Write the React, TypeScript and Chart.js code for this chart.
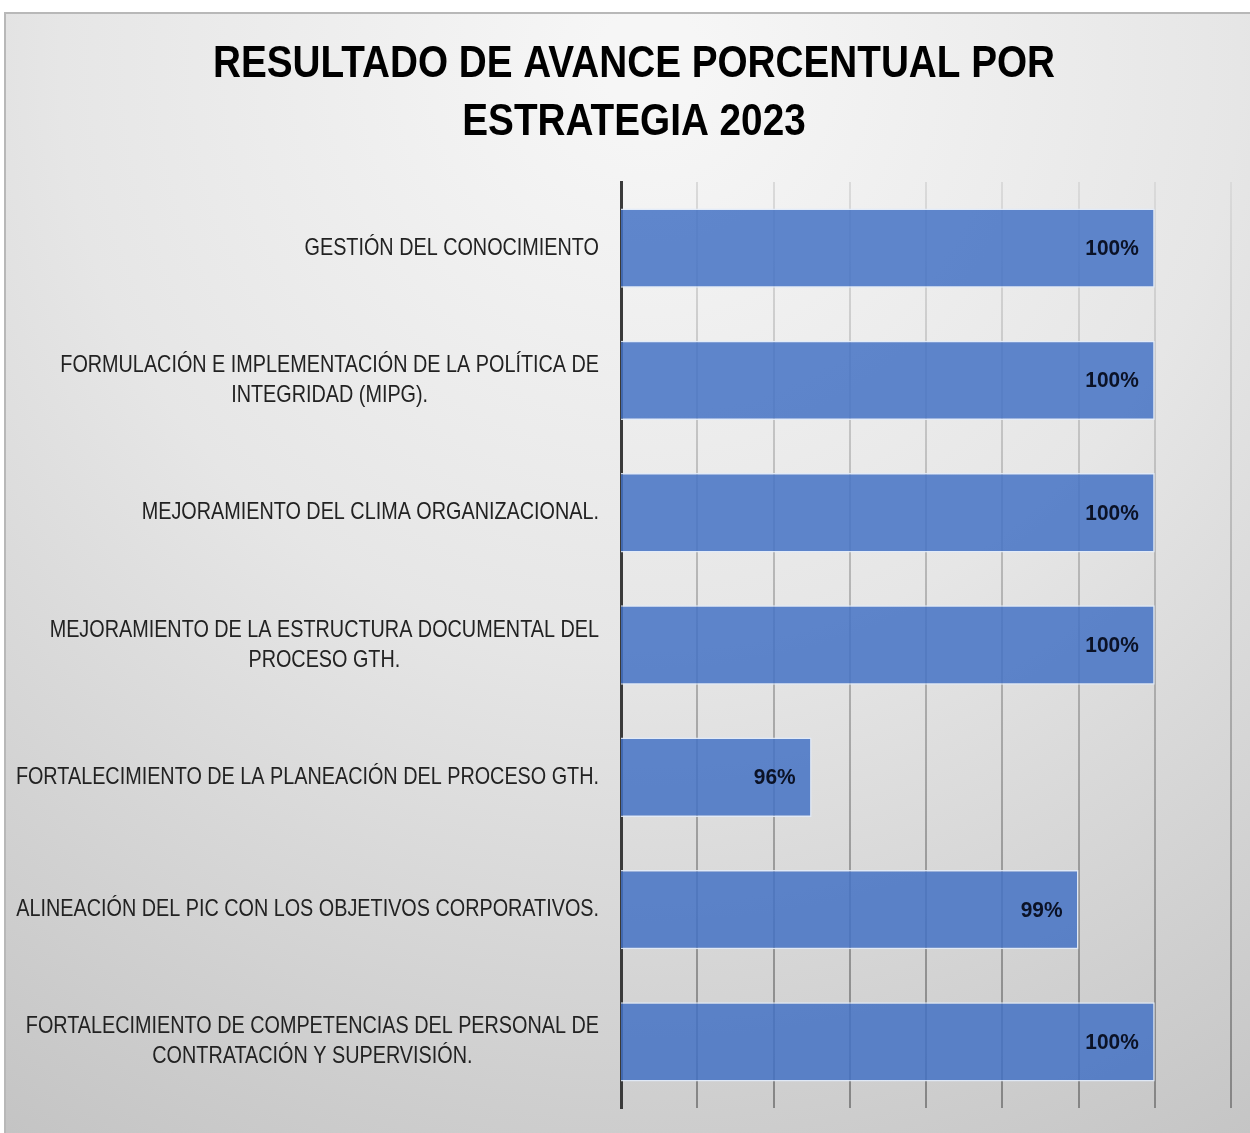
import React, { useEffect, useRef } from "react";
import { Chart, registerables } from "chart.js";

Chart.register(...registerables);

const TITLE_LINES = ["RESULTADO DE AVANCE PORCENTUAL POR", "ESTRATEGIA 2023"];

const CATEGORIES: string[][] = [
  ["GESTIÓN DEL CONOCIMIENTO"],
  ["FORMULACIÓN E IMPLEMENTACIÓN DE LA POLÍTICA DE", "INTEGRIDAD (MIPG)."],
  ["MEJORAMIENTO DEL CLIMA ORGANIZACIONAL."],
  ["MEJORAMIENTO DE LA ESTRUCTURA DOCUMENTAL DEL", "PROCESO GTH."],
  ["FORTALECIMIENTO DE LA PLANEACIÓN DEL PROCESO GTH."],
  ["ALINEACIÓN DEL PIC CON LOS OBJETIVOS CORPORATIVOS."],
  ["FORTALECIMIENTO DE COMPETENCIAS DEL PERSONAL DE", "CONTRATACIÓN Y SUPERVISIÓN."],
];

const VALUES: number[] = [100, 100, 100, 100, 95.5, 99, 100];

const AXIS_MIN = 93;
const AXIS_MAX = 101;
const AXIS_STEP = 1;

const FONT = '"Liberation Sans", Arial, sans-serif';

function drawNarrow(ctx: any, text: string, x: number, y: number, sx: number, align: string) {
  ctx.save();
  ctx.translate(x, y);
  ctx.scale(sx, 1);
  ctx.textAlign = align;
  ctx.fillText(text, 0, 0);
  ctx.restore();
}

const framePlugin = {
  id: "frameBg",
  beforeDraw(chart: any) {
    const { ctx, width, height } = chart;
    ctx.save();
    ctx.fillStyle = "#ffffff";
    ctx.fillRect(0, 0, width, height);
    const g = ctx.createRadialGradient(650, 60, 50, 650, 60, 1250);
    g.addColorStop(0, "#f6f6f6");
    g.addColorStop(0.45, "#e6e6e6");
    g.addColorStop(1, "#c4c4c4");
    ctx.fillStyle = g;
    ctx.fillRect(4, 12, width - 4, height - 12);
    ctx.strokeStyle = "#b8b8b8";
    ctx.lineWidth = 2;
    ctx.strokeRect(5, 13, width + 10, height + 10);
    ctx.restore();
  },
};

const textPlugin = {
  id: "texts",
  afterDraw(chart: any) {
    const { ctx, chartArea } = chart;
    const yScale = chart.scales.y;
    ctx.save();
    ctx.textBaseline = "middle";
    // title
    ctx.fillStyle = "#000000";
    ctx.font = `bold 45px ${FONT}`;
    TITLE_LINES.forEach((line, i) => {
      drawNarrow(ctx, line, 634, 65 + i * 58, 0.86, "center");
    });
    // category labels
    const sx = 0.825;
    ctx.font = `24px ${FONT}`;
    ctx.fillStyle = "#222222";
    const right = chartArea.left - 22;
    CATEGORIES.forEach((lines, i) => {
      const cy = yScale.getPixelForValue(i);
      const maxW = Math.max(...lines.map((l) => ctx.measureText(l).width * sx));
      const cx = right - maxW / 2;
      const lh = 30;
      const start = cy - ((lines.length - 1) * lh) / 2;
      lines.forEach((l, j) => {
        drawNarrow(ctx, l, cx, start + j * lh, sx, "center");
      });
    });
    // value labels
    const meta = chart.getDatasetMeta(0);
    ctx.font = `bold 22px ${FONT}`;
    ctx.fillStyle = "#0b1226";
    meta.data.forEach((bar: any, i: number) => {
      drawNarrow(ctx, `${Math.round(VALUES[i])}%`, bar.x - 16, bar.y + 1, 0.95, "right");
    });
    ctx.restore();
  },
};

export default function App() {
  const ref = useRef<HTMLCanvasElement | null>(null);
  useEffect(() => {
    if (!ref.current) return;
    const gridGrad = (ctx: any) => {
      const chart = ctx.chart;
      const area = chart.chartArea;
      if (!area) return "#bbbbbb";
      const g = chart.ctx.createLinearGradient(0, area.top, 0, area.bottom);
      g.addColorStop(0, "#dadada");
      g.addColorStop(1, "#858585");
      return g;
    };
    const chart = new Chart(ref.current, {
      type: "bar",
      data: {
        labels: CATEGORIES.map((c) => c.join(" ")),
        datasets: [
          {
            data: VALUES,
            backgroundColor: "rgba(68,114,196,0.85)",
            borderColor: "rgba(225,235,250,0.9)",
            borderWidth: 1.5,
            barPercentage: 0.6,
            categoryPercentage: 1,
          },
        ],
      },
      options: {
        indexAxis: "y",
        animation: false,
        responsive: true,
        maintainAspectRatio: false,
        layout: { padding: { left: 621, right: 19, top: 182, bottom: 25 } },
        plugins: {
          legend: { display: false },
          title: { display: false },
          tooltip: { enabled: false },
        },
        scales: {
          x: {
            min: AXIS_MIN,
            max: AXIS_MAX,
            ticks: { display: false, stepSize: AXIS_STEP },
            grid: { color: gridGrad as any, lineWidth: 2, drawTicks: false },
            border: { display: false },
          },
          y: {
            ticks: { display: false },
            grid: { display: false, drawTicks: false },
            border: { display: true, color: "#3a3a3a", width: 3 },
          },
        },
      },
      plugins: [framePlugin, textPlugin],
    });
    return () => chart.destroy();
  }, []);
  return (
    <div style={{ position: "absolute", left: 0, top: 0, width: 1250, height: 1133 }}>
      <canvas ref={ref} />
    </div>
  );
}
